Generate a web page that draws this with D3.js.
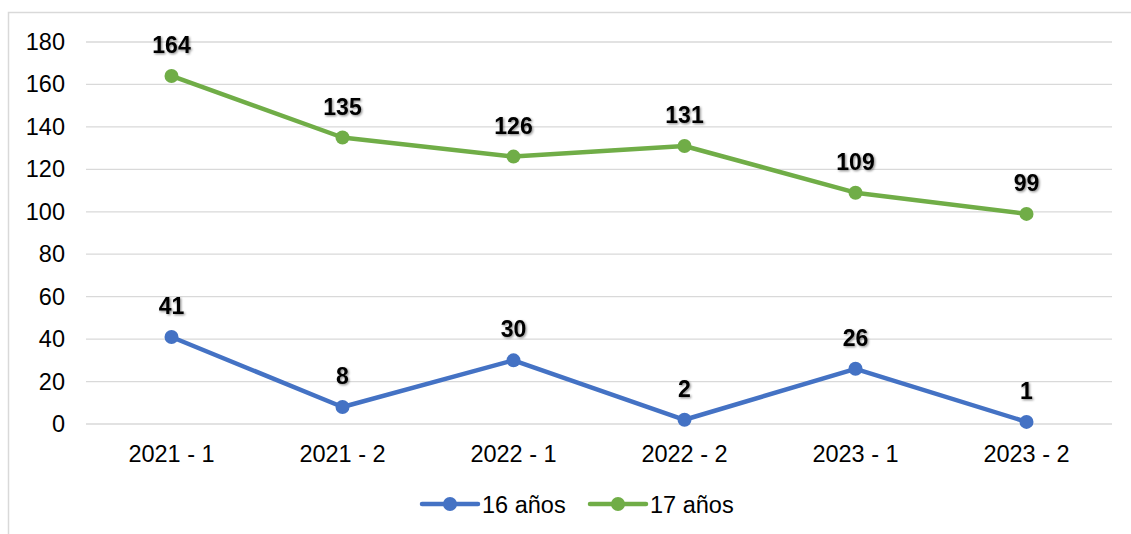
<!DOCTYPE html>
<html><head><meta charset="utf-8">
<script src="https://cdn.jsdelivr.net/npm/d3@7"></script>
<style>body{margin:0;background:#fff;}svg{display:block;}</style>
</head><body>
<svg id="chart" width="1131" height="534"></svg>
<script>
const categories = ["2021 - 1","2021 - 2","2022 - 1","2022 - 2","2023 - 1","2023 - 2"];
const seriesNames = ["16 años","17 años"];
const values16 = [41, 8, 30, 2, 26, 1];
const values17 = [164, 135, 126, 131, 109, 99];
const colors = ["#4472C4", "#70AD47"];
const yTicks = [0,20,40,60,80,100,120,140,160,180];

const FONT = "Arial, 'Liberation Sans', sans-serif";
const FS = 23.5;
const svg = d3.select("#chart");
const defs = svg.append("defs");
const f = defs.append("filter").attr("id","sh").attr("x","-20%").attr("y","-20%").attr("width","150%").attr("height","150%");
f.append("feDropShadow").attr("dx",1.2).attr("dy",1.2).attr("stdDeviation",1).attr("flood-color","#000").attr("flood-opacity",0.45);

// border
svg.append("path").attr("d","M8.5,540 L8.5,12.5 L1140,12.5").attr("fill","none").attr("stroke","#d9d9d9").attr("stroke-width",1.5);

const x = d3.scaleBand().domain(categories).range([86,1112]);
const y = d3.scaleLinear().domain([0,180]).range([424,42]);

// gridlines
svg.append("g").selectAll("line").data(yTicks).join("line")
  .attr("x1",86).attr("x2",1112)
  .attr("y1",d=>y(d)).attr("y2",d=>y(d))
  .attr("stroke","#d9d9d9").attr("stroke-width",1.3);

// y axis labels
const yAxis = d3.axisLeft(y).tickValues(yTicks).tickSize(0).tickPadding(0);
const gy = svg.append("g").attr("transform","translate(65,0)").call(yAxis);
gy.select(".domain").remove();
gy.attr("font-family",FONT).attr("font-size",FS);
gy.selectAll("text").attr("fill","#000");

// x axis labels
const xAxis = d3.axisBottom(x).tickSize(0).tickPadding(0);
const gx = svg.append("g").attr("transform","translate(0,445)").call(xAxis);
gx.select(".domain").remove();
gx.attr("font-family",FONT).attr("font-size",FS);
gx.selectAll("text").attr("fill","#000");

const cx = d => x(d) + x.bandwidth()/2;
const data = [values16, values17];
const line = d3.line().x((d,i)=>cx(categories[i])).y(d=>y(d));

data.forEach((vals, s) => {
  const g = svg.append("g");
  g.append("path").datum(vals).attr("d",line).attr("fill","none")
    .attr("stroke",colors[s]).attr("stroke-width",4.5).attr("stroke-linejoin","round").attr("stroke-linecap","round");
  g.selectAll("circle").data(vals).join("circle")
    .attr("cx",(d,i)=>cx(categories[i])).attr("cy",d=>y(d)).attr("r",7).attr("fill",colors[s]);
  g.selectAll("text").data(vals).join("text")
    .attr("x",(d,i)=>cx(categories[i])).attr("y",d=>y(d)-23)
    .attr("text-anchor","middle").attr("font-family",FONT)
    .attr("font-weight","bold").attr("font-size",23).attr("fill","#000")
    .attr("filter","url(#sh)")
    .text(d=>d);
});

// legend
const legendX = [422, 590];
seriesNames.forEach((n, s) => {
  const g = svg.append("g").attr("transform",`translate(${legendX[s]},504)`);
  g.append("line").attr("x1",0).attr("x2",56).attr("y1",0).attr("y2",0).attr("stroke",colors[s]).attr("stroke-width",4.5).attr("stroke-linecap","round");
  g.append("circle").attr("cx",28).attr("cy",0).attr("r",7).attr("fill",colors[s]);
  g.append("text").attr("x",60).attr("y",8.5).attr("font-family",FONT).attr("font-size",FS).attr("fill","#000").text(n);
});
</script>
</body></html>
